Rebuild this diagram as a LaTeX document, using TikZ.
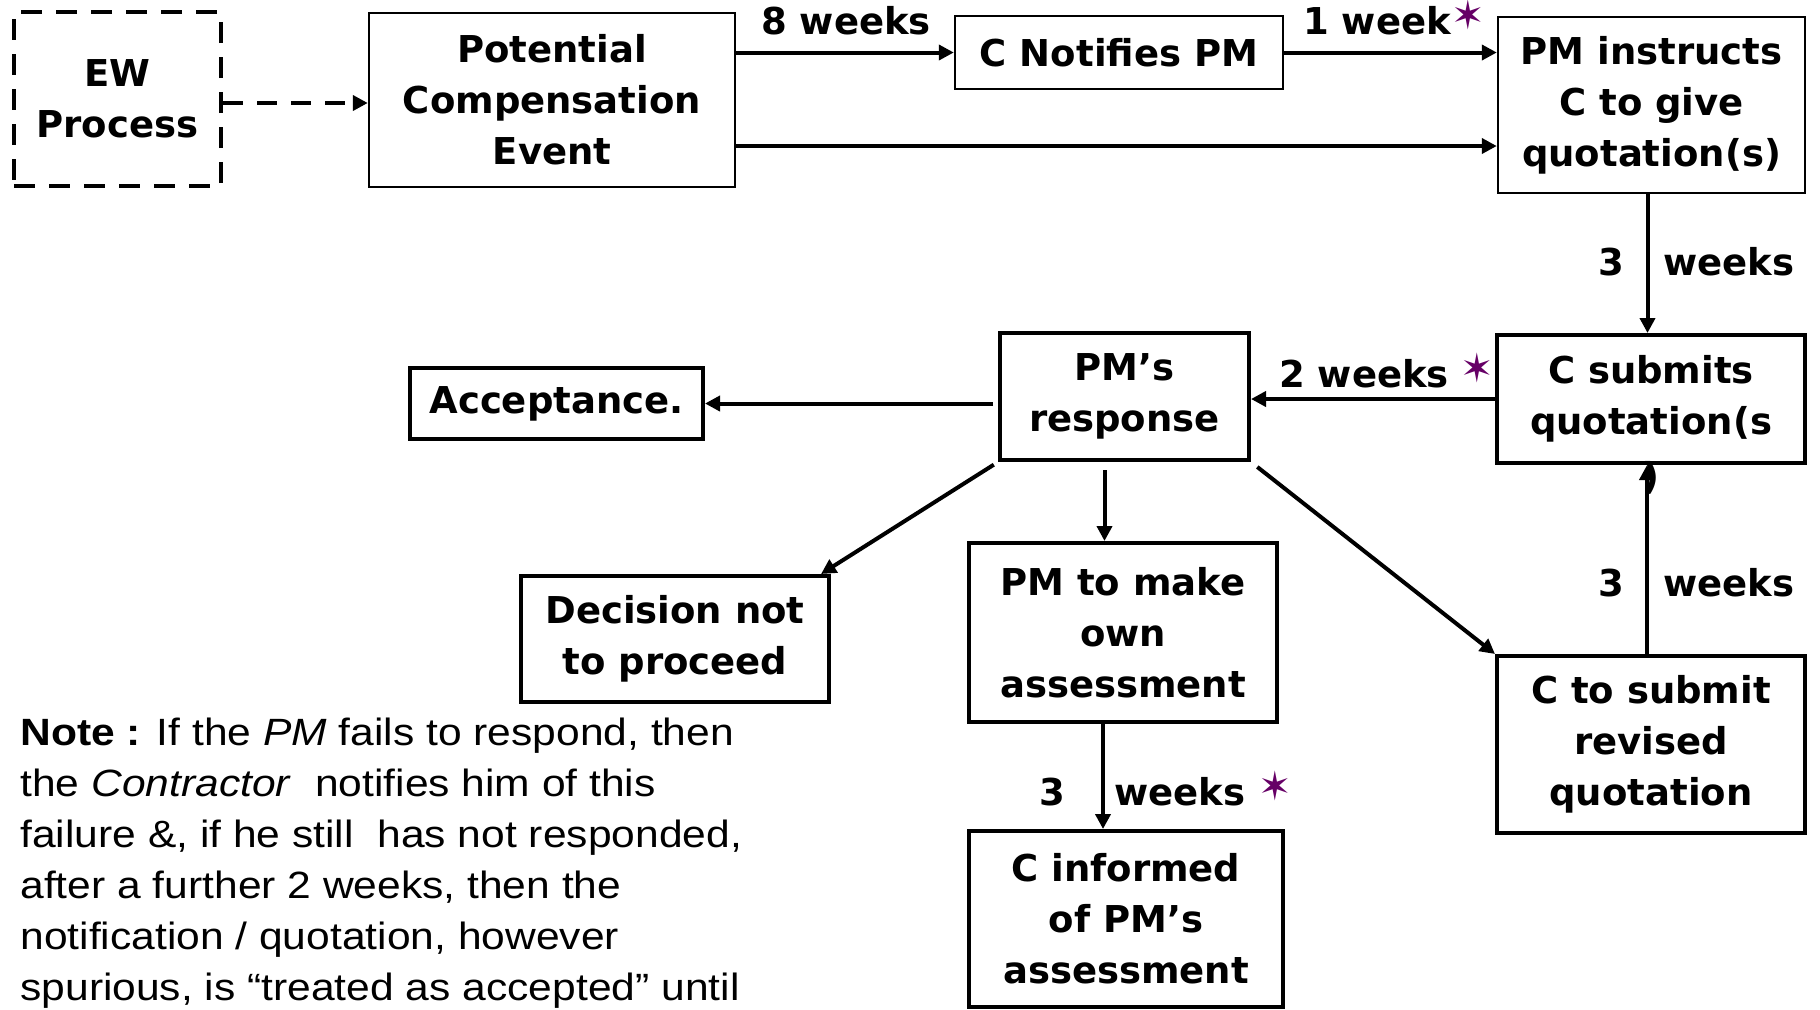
\documentclass[tikz,border=0pt]{standalone}
\usepackage{fontspec}
\setmainfont{DejaVu Sans}
\newfontfamily\notefont[FakeStretch=1.12]{Liberation Sans}
\usetikzlibrary{arrows.meta}
\definecolor{starpurple}{RGB}{102,0,102}
\tikzset{
	box/.style={draw,line width=2pt,align=center,inner sep=0pt,font=\bfseries\fontsize{18.5}{25.5}\selectfont},
	thinbox/.style={box,line width=1.2pt},
	dashbox/.style={box,dash pattern=on 10.5pt off 7pt},
	arr/.style={line width=2pt,-{Triangle[length=7.5pt,width=7.5pt]}},
	lbl/.style={inner sep=0pt,font=\bfseries\fontsize{18.5}{25.5}\selectfont},
	starmark/.style={inner sep=0pt,text=starpurple,font=\fontsize{20}{20}\selectfont},
	note/.style={align=left,inner sep=0pt,font=\notefont\fontsize{19}{25.5}\selectfont}
}
\begin{document}
\begin{tikzpicture}[x=0.5pt,y=-0.5pt]
	\useasboundingbox (0,0) rectangle (1820,1009);
	% boxes
	\node[dashbox,minimum width=103.5pt,minimum height=87pt] (ew) at (117.5,99){EW\\Process};
	\node[thinbox,minimum width=183pt,minimum height=87pt] (pce) at (552,100){Potential\\Compensation\\Event};
	\node[thinbox,minimum width=164pt,minimum height=36.5pt] (notify) at (1119,52.5){C Notifies PM};
	\node[thinbox,minimum width=153.5pt,minimum height=88pt] (instruct) at (1651.5,105){PM instructs\\C to give\\quotation(s)};
	\node[box,minimum width=154pt,minimum height=64pt] (submits) at (1651,399){C submits\\quotation(s};
	\node[box,minimum width=124.5pt,minimum height=63.5pt] (response) at (1124.5,396.5){PM’s\\response};
	\node[box,minimum width=146.5pt,minimum height=35.5pt] (accept) at (556.5,403.5){Acceptance.};
	\node[box,minimum width=154pt,minimum height=63pt] (decision) at (675,639){Decision not\\to proceed};
	\node[box,minimum width=154pt,minimum height=89.5pt] (own) at (1123,632.5){PM to make\\own\\assessment};
	\node[box,minimum width=157pt,minimum height=88pt] (informed) at (1126,919){C informed\\of PM’s\\assessment};
	\node[box,minimum width=154pt,minimum height=88.5pt] (revised) at (1651,744.5){C to submit\\revised\\quotation};
	\node[lbl] (paren) at (1651,478){)};
	% connectors
	\draw[arr,dash pattern=on 10pt off 7pt] ([yshift=-2pt]ew.east) coordinate (e) -- (e -| pce.west);
	\draw[arr] (pce.east |- notify.west) -- (notify.west);
	\draw[arr] (notify.east) -- (notify.east -| instruct.west);
	\draw[arr] ([yshift=-23pt]pce.east) coordinate (lo) -- (lo -| instruct.west);
	\draw[arr] ([xshift=-2pt]instruct.south) coordinate (i) -- (i |- submits.north);
	\draw[arr] (submits.west) -- (submits.west -| response.east);
	\draw[arr,shorten <=2.5pt] (response.west |- accept.east) -- (accept.east);
	\draw[arr,shorten <=2.5pt] (response.south west) -- ([xshift=-5pt]decision.north east);
	\draw[arr,shorten <=4pt] ([xshift=-10pt]response.south) coordinate (r) -- (r |- own.north);
	\draw[arr,shorten <=4pt] (response.south east) -- (revised.north west);
	\draw[arr] ([xshift=-2pt]revised.north) coordinate (v) -- (v |- submits.south);
	\draw[arr] ([xshift=-10pt]own.south) coordinate (o) -- (o |- informed.north);
	% labels
	\node[lbl] (w8) at (846,21){8 weeks};
	\node[lbl] (w1) at (1377,21){1 week};
	\node[starmark] at (1468,15){✶};
	\node[lbl] (w3a) at (1611,262){3};
	\node[lbl] (w3aw) at (1729,262){weeks};
	\node[lbl] (w2) at (1364,374){2 weeks};
	\node[starmark] at (1477,368){✶};
	\node[lbl] (w3b) at (1611,583){3};
	\node[lbl] (w3bw) at (1729,583){weeks};
	\node[lbl] (w3c) at (1052,792){3};
	\node[lbl] (w3cw) at (1180,792){weeks};
	\node[starmark] at (1275,786){✶};
	% note
	\node[note,anchor=north west] (note) at (20,718){\textbf{Note :} If the \textit{PM} fails to respond, then\\the \textit{Contractor}\ \ notifies him of this\\failure \&, if he still\ \ has not responded,\\after a further 2 weeks, then the\\notification / quotation, however\\spurious, is “treated as accepted” until};
\end{tikzpicture}
\end{document}
